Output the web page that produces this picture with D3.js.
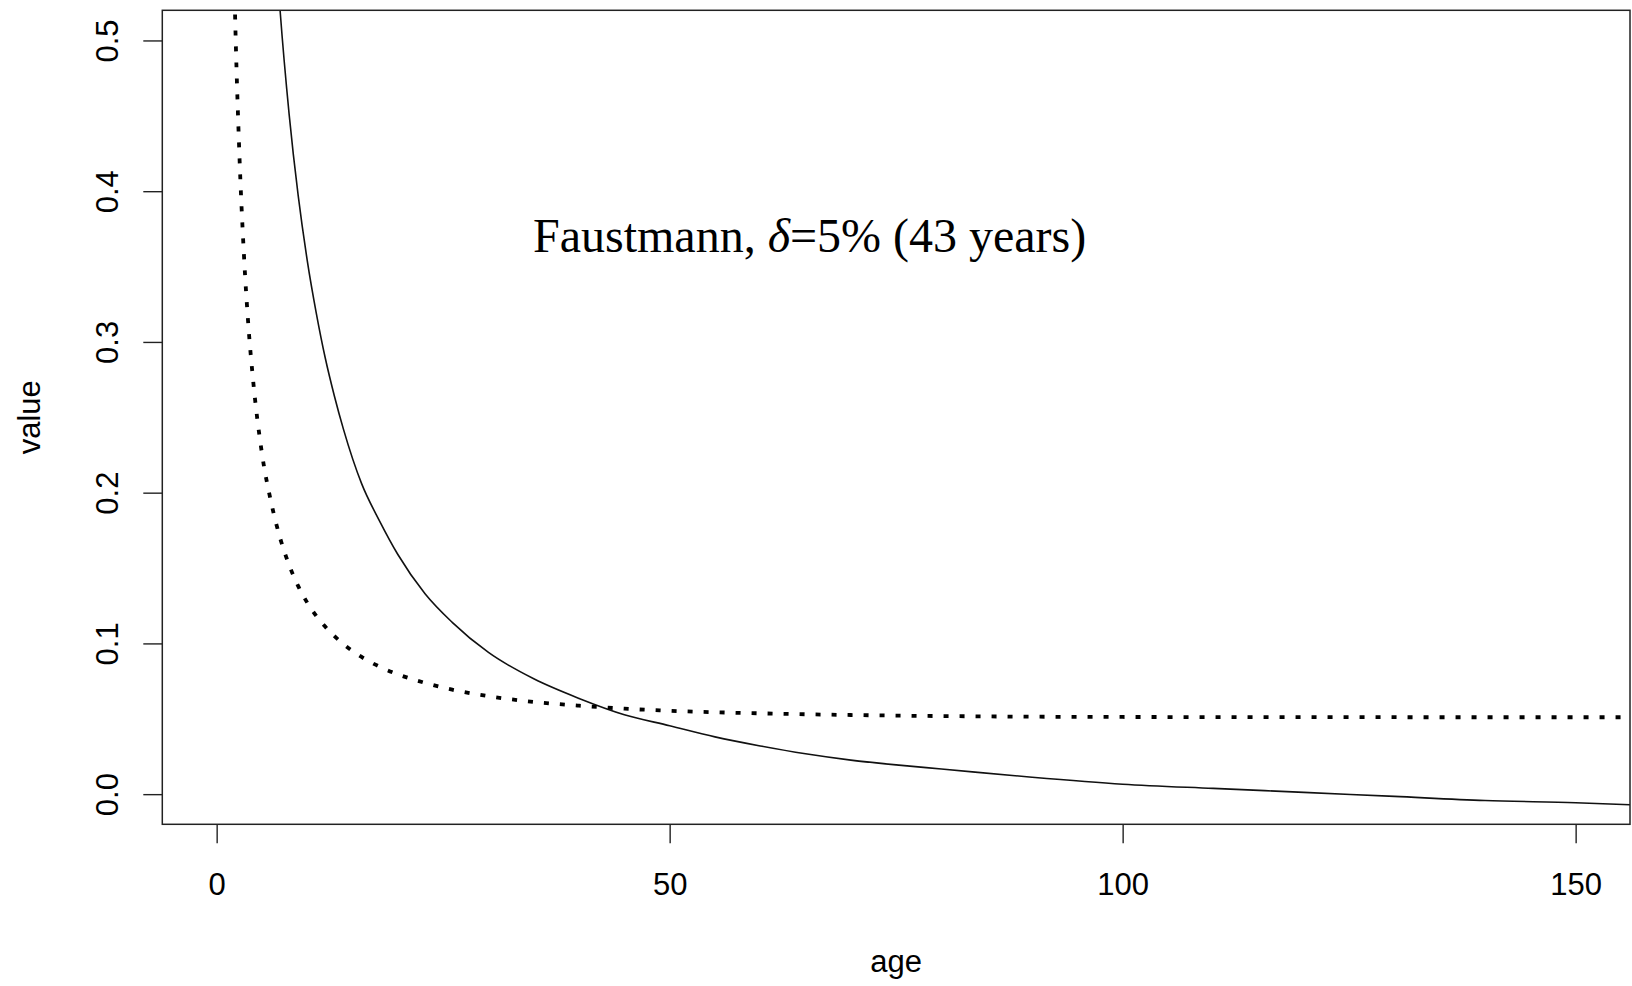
<!DOCTYPE html>
<html>
<head>
<meta charset="utf-8">
<script src="https://cdn.jsdelivr.net/npm/d3@7"></script>
<style>
  html, body { margin: 0; padding: 0; background: #fff; }
  svg { display: block; }
  .tick-label, .axis-title { font-family: "Liberation Sans", Arial, sans-serif; font-size: 31px; fill: #000; }
  .note { font-family: "Liberation Serif", "Times New Roman", serif; font-size: 48px; fill: #000; }
</style>
</head>
<body>
<div class="canvas"></div>
<script>
// values
const solidAges = [6, 7, 8, 9, 10, 11, 12, 13, 14, 16, 18, 20, 23, 26, 30, 35, 40, 45, 50, 55, 60, 65, 70, 75, 80, 90, 100, 110, 120, 130, 140, 150, 156];
const solidValues = [0.612, 0.52, 0.451, 0.397, 0.354, 0.319, 0.289, 0.264, 0.242, 0.206, 0.181, 0.159, 0.133, 0.114, 0.094, 0.0765, 0.0635, 0.0527, 0.0454, 0.038, 0.032, 0.0268, 0.0226, 0.0194, 0.0167, 0.0112, 0.0066, 0.0038, 0.0012, -0.0015, -0.0042, -0.0057, -0.007];

const dottedAges = [1.8, 2, 2.5, 3, 3.5, 4, 5, 6, 7, 8, 9, 10, 12, 14, 16, 18, 20, 23, 26, 30, 35, 40, 45, 50, 60, 70, 80, 90, 100, 120, 140, 156];
const dottedValues = [0.581, 0.525, 0.426, 0.359, 0.311, 0.276, 0.226, 0.194, 0.17, 0.152, 0.138, 0.127, 0.111, 0.0995, 0.091, 0.0845, 0.0795, 0.0738, 0.0693, 0.065, 0.0612, 0.0587, 0.0567, 0.0553, 0.0536, 0.0525, 0.0518, 0.0514, 0.0512, 0.0511, 0.051, 0.051];

const xTicks = [0, 50, 100, 150];
const yTicks = [0, 0.1, 0.2, 0.3, 0.4, 0.5];

const width = 1632;
const height = 986;
const box = { left: 162.3, right: 1630, top: 10.3, bottom: 824.3 };

const svg = d3.select(".canvas").append("svg")
  .attr("width", width)
  .attr("height", height);

// R style: 4% padding on each side of the range
const x = d3.scaleLinear().domain([-6, 156]).range([box.left, box.right]);
const y = d3.scaleLinear().domain([-0.02, 0.52]).range([box.bottom, box.top]);

svg.append("clipPath")
  .attr("id", "plot-clip")
  .append("rect")
  .attr("x", box.left)
  .attr("y", box.top)
  .attr("width", box.right - box.left)
  .attr("height", box.bottom - box.top);

const line = d3.line()
  .x((d) => x(d[0]))
  .y((d) => y(d[1]))
  .curve(d3.curveMonotoneX);

const plot = svg.append("g").attr("clip-path", "url(#plot-clip)");

plot.append("path")
  .datum(d3.zip(solidAges, solidValues))
  .attr("d", line)
  .attr("fill", "none")
  .attr("stroke", "#111")
  .attr("stroke-width", 1.6);

plot.append("path")
  .datum(d3.zip(dottedAges, dottedValues))
  .attr("d", line)
  .attr("fill", "none")
  .attr("stroke", "#000")
  .attr("stroke-width", 3.8)
  .attr("stroke-dasharray", "5,11");

// axes
const xAxis = d3.axisBottom(x)
  .tickValues(xTicks)
  .tickSize(19)
  .tickPadding(18)
  .tickFormat(d3.format("d"));

const yAxis = d3.axisLeft(y)
  .tickValues(yTicks)
  .tickSize(19)
  .tickFormat(d3.format(".1f"));

const gx = svg.append("g")
  .attr("transform", `translate(0,${box.bottom})`)
  .call(xAxis);

const gy = svg.append("g")
  .attr("transform", `translate(${box.left},0)`)
  .call(yAxis);

[gx, gy].forEach((g) => {
  g.select(".domain").remove();
  g.selectAll(".tick line").attr("stroke", "#222").attr("stroke-width", 1.4);
  g.selectAll(".tick text")
    .attr("class", "tick-label")
    .attr("fill", null)
    .style("font-family", null)
    .style("font-size", null);
});
gx.attr("font-size", null).attr("font-family", null);
gy.attr("font-size", null).attr("font-family", null);

gx.selectAll(".tick text").attr("dy", null).attr("y", 71);

// rotated y labels, as R does with las = 0
gy.selectAll(".tick text")
  .attr("x", null)
  .attr("dy", null)
  .attr("text-anchor", "middle")
  .attr("transform", "translate(-44,0) rotate(-90)");

// box
svg.append("rect")
  .attr("x", box.left)
  .attr("y", box.top)
  .attr("width", box.right - box.left)
  .attr("height", box.bottom - box.top)
  .attr("fill", "none")
  .attr("stroke", "#222")
  .attr("stroke-width", 1.5);

svg.append("text")
  .attr("class", "axis-title")
  .attr("x", (box.left + box.right) / 2)
  .attr("y", 972)
  .attr("text-anchor", "middle")
  .text("age");

svg.append("text")
  .attr("class", "axis-title")
  .attr("text-anchor", "middle")
  .attr("transform", `translate(40,${(box.top + box.bottom) / 2}) rotate(-90)`)
  .text("value");

const note = svg.append("text")
  .attr("class", "note")
  .attr("x", 533)
  .attr("y", 252);
note.append("tspan").text("Faustmann, ");
note.append("tspan").attr("font-style", "italic").text("δ");
note.append("tspan").text("=5% (43 years)");
</script>
</body>
</html>
